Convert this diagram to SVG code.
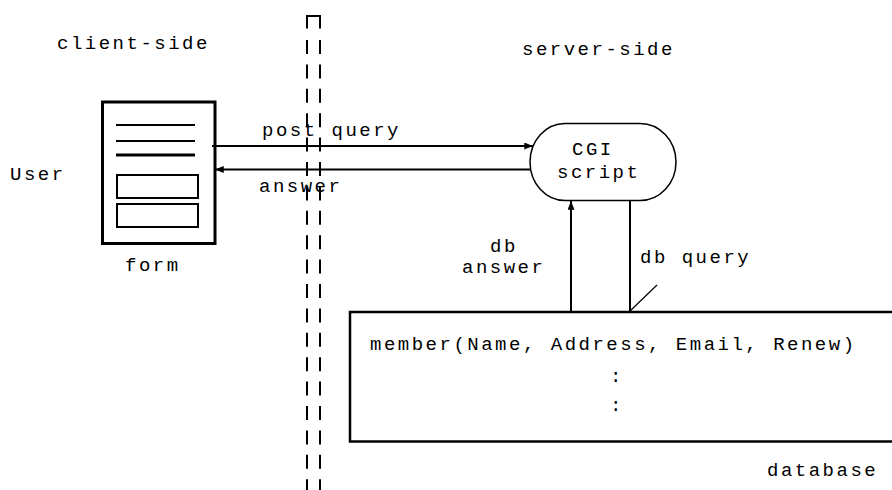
<svg xmlns="http://www.w3.org/2000/svg" width="892" height="490" viewBox="0 0 892 490">
  <style>
    text { font-family: "Liberation Mono", "DejaVu Sans Mono", monospace; font-size: 19px; letter-spacing: 2.5px; fill: #000; }
    .ln { stroke: #000; stroke-width: 2; fill: none; }
    .thin { stroke: #000; stroke-width: 1.2; fill: none; }
    .dash { stroke: #000; stroke-width: 2; fill: none; stroke-dasharray: 14 10.4; }
  </style>
  <defs>
    <marker id="ah" viewBox="0 0 10 8" refX="10" refY="4" markerWidth="9" markerHeight="7" markerUnits="userSpaceOnUse" orient="auto">
      <path d="M0,0 L10,4 L0,8 Z" fill="#000"/>
    </marker>
  </defs>
  <rect width="892" height="490" fill="#fff"/>

  <g id="labels">
    <text x="57" y="49">client-side</text>
    <text x="522" y="55">server-side</text>
    <text x="10" y="180">User</text>
  </g>

  <g id="form">
    <rect x="102.5" y="102" width="112.5" height="141.5" fill="none" stroke="#000" stroke-width="3"/>
    <line x1="116" y1="125" x2="195" y2="125" class="ln"/>
    <line x1="116" y1="141" x2="195" y2="141" class="ln"/>
    <line x1="116" y1="155" x2="195" y2="155" stroke="#000" stroke-width="3"/>
    <rect x="117" y="175" width="81" height="23" class="ln"/>
    <rect x="117" y="204" width="81" height="23" class="ln"/>
    <text x="125" y="271">form</text>
  </g>

  <g id="cgi">
    <path d="M565,123.5 H640 A36,38.5 0 0 1 640,200.5 H565 A35,38.5 0 0 1 565,123.5 Z" fill="none" stroke="#000" stroke-width="1.5"/>
    <text x="572" y="155">CGI</text>
    <text x="557" y="178">script</text>
  </g>

  <g id="database">
    <rect x="350" y="312" width="560" height="129.5" fill="none" stroke="#000" stroke-width="2.5"/>
    <text x="370" y="350">member(Name, Address, Email, Renew)</text>
    <text x="610" y="382">:</text>
    <text x="610" y="411">:</text>
    <text x="767" y="476">database</text>
  </g>

  <g id="connectors">
    <line x1="212" y1="146" x2="533" y2="146" class="ln" marker-end="url(#ah)"/>
    <line x1="531" y1="169.5" x2="215" y2="169.5" class="ln" marker-end="url(#ah)"/>
    <line x1="571" y1="312" x2="571" y2="201" class="ln" marker-end="url(#ah)"/>
    <line x1="630" y1="201" x2="630" y2="312" class="ln"/>
    <line x1="630" y1="311" x2="657" y2="285" class="thin"/>
    <text x="262" y="136">post query</text>
    <text x="259" y="192">answer</text>
    <text x="490" y="252">db</text>
    <text x="462" y="273">answer</text>
    <text x="640" y="263">db query</text>
  </g>

  <g id="boundary">
    <path d="M307,28.5 V16 H320 V28.5" class="ln"/>
    <line x1="307" y1="40" x2="307" y2="490" class="dash"/>
    <line x1="320" y1="40" x2="320" y2="490" class="dash"/>
  </g>
</svg>
